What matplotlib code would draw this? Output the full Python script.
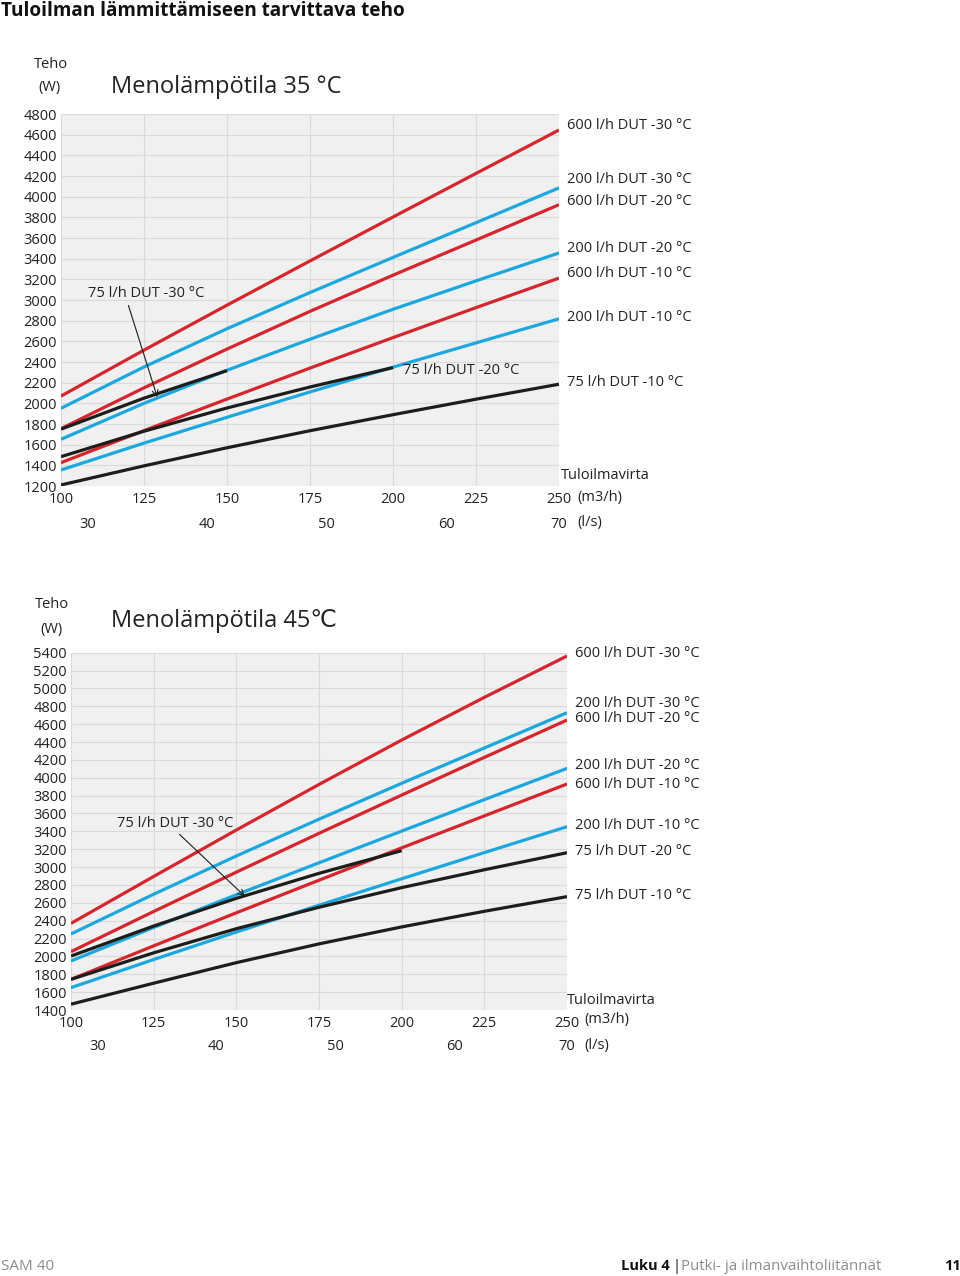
import numpy as np
import matplotlib.pyplot as plt

plt.rcParams['font.family'] = ['Open Sans', 'DejaVu Sans']

W, H = 960, 1276
RED = '#d5262d'
BLUE = '#1ca7df'
BLACK = '#1d1d1b'
GREY_BG = '#eff0ef'
GRID = '#d9dad9'

# air flow (m3/h) and the l/s scale shown under it
flow = [100, 125, 150, 175, 200, 225, 250]
ls_ticks = [30, 40, 50, 60, 70]

# Menolämpötila 35 °C  (W)
t35_600_m30 = [2070, 2515, 2950, 3378, 3803, 4225, 4645]
t35_200_m30 = [1952, 2352, 2722, 3072, 3412, 3748, 4085]
t35_600_m20 = [1755, 2150, 2525, 2890, 3240, 3580, 3922]
t35_200_m20 = [1652, 2000, 2320, 2620, 2910, 3185, 3455]
t35_600_m10 = [1426, 1736, 2041, 2341, 2636, 2926, 3212]
t35_200_m10 = [1355, 1615, 1865, 2110, 2350, 2585, 2818]
t35_75_m30 = [1750, 2050, 2317]                 # 100..150
t35_75_m20 = [1484, 1730, 1955, 2158, 2346]     # 100..200
t35_75_m10 = [1210, 1395, 1570, 1735, 1890, 2040, 2185]

# Menolämpötila 45 °C  (W)
t45_600_m30 = [2370, 2895, 3415, 3925, 4422, 4900, 5363]
t45_200_m30 = [2251, 2696, 3124, 3536, 3938, 4333, 4728]
t45_600_m20 = [2053, 2503, 2943, 3378, 3806, 4228, 4646]
t45_200_m20 = [1949, 2324, 2690, 3048, 3403, 3755, 4105]
t45_600_m10 = [1743, 2118, 2488, 2853, 3215, 3573, 3930]
t45_200_m10 = [1650, 1965, 2273, 2573, 2869, 3162, 3452]
t45_75_m30 = [2004, 2340, 2650, 2930, 3184]     # 100..200
t45_75_m20 = [1743, 2040, 2310, 2550, 2770, 2970, 3161]
t45_75_m10 = [1465, 1700, 1930, 2140, 2330, 2505, 2669]


def fx(x):
    return x / W


def fy(y):
    return 1 - y / H


def plot_chart(ax, curves, ymin, ymax, notes):
    """draw one Teho / Tuloilmavirta chart"""
    ax.set_facecolor(GREY_BG)
    for s in ax.spines.values():
        s.set_visible(False)

    # colored lines first, black ones on top
    for name, color, ys, dy in sorted(curves, key=lambda c: c[1] == BLACK):
        xs = flow[:len(ys)]
        ax.plot(xs, ys, color=color, linewidth=2.3, solid_capstyle='butt',
                solid_joinstyle='round', zorder=3)
        if dy is not None:
            ax.annotate(name, xy=(xs[-1], ys[-1]), xytext=(6, dy),
                        textcoords='offset points', va='center', ha='left',
                        fontsize=10.5, color='#222222', annotation_clip=False)

    ax.set_xlim(100, 250)
    ax.set_ylim(ymin, ymax)
    ax.set_xticks(flow)
    ax.set_yticks(np.arange(ymin, ymax + 1, 200))
    ax.grid(True, color=GRID, linewidth=0.8, zorder=0)
    ax.set_axisbelow(True)
    ax.tick_params(length=0, labelsize=10.5, colors='#222222', pad=3)
    ax.tick_params(axis='x', pad=4)

    # l/s row under the m3/h ticks
    trans = ax.get_xaxis_transform()
    for v in ls_ticks:
        ax.text(min(v * 3.6, 250), -0.103, str(v), transform=trans,
                ha='center', va='center', fontsize=10.5, color='#222222')

    for text, xy, xytext, rel in notes:
        if rel is None:
            ax.annotate(text, xy=xy, xytext=xytext, textcoords='offset points',
                        ha='left', va='center', fontsize=10.5, color='#222222')
        else:
            ax.annotate(text, xy=xy, xytext=xytext, ha='left', va='center',
                        fontsize=10.5, color='#222222',
                        arrowprops=dict(arrowstyle='->', color=BLACK, lw=0.8,
                                        relpos=(rel, 0.0), shrinkA=1, shrinkB=0))


fig = plt.figure(figsize=(9.6, 12.76), dpi=100)

# --- chart 1 ---
ax1 = fig.add_axes([fx(61), fy(486), fx(498), 372 / H])
curves35 = [
    ("600 l/h DUT -30 °C", RED, t35_600_m30, 3),
    ("200 l/h DUT -30 °C", BLUE, t35_200_m30, 6),
    ("600 l/h DUT -20 °C", RED, t35_600_m20, 2),
    ("200 l/h DUT -20 °C", BLUE, t35_200_m20, 3),
    ("600 l/h DUT -10 °C", RED, t35_600_m10, 3),
    ("200 l/h DUT -10 °C", BLUE, t35_200_m10, 1),
    ("75 l/h DUT -30 °C", BLACK, t35_75_m30, None),
    ("75 l/h DUT -20 °C", BLACK, t35_75_m20, None),
    ("75 l/h DUT -10 °C", BLACK, t35_75_m10, 1),
]
notes35 = [
    ("75 l/h DUT -30 °C", (129, 2060), (108, 3060), 0.34),
    ("75 l/h DUT -20 °C", (200, t35_75_m20[-1]), (7, -2), None),
]
plot_chart(ax1, curves35, 1200, 4800, notes35)

fig.text(fx(34), fy(64), "Teho", fontsize=10.5, va='center', color='#222222')
fig.text(fx(38), fy(88), "(W)", fontsize=10.5, va='center', color='#222222')
fig.text(fx(111), fy(87), "Menolämpötila 35 °C", fontsize=17, va='center', color='#222222')
fig.text(fx(561), fy(475), "Tuloilmavirta", fontsize=10.5, va='center', color='#222222')
fig.text(fx(577), fy(497), "(m3/h)", fontsize=10.5, va='center', color='#222222')
fig.text(fx(577), fy(522), "(l/s)", fontsize=10.5, va='center', color='#222222')

# --- chart 2 ---
ax2 = fig.add_axes([fx(71), fy(1010), fx(496), 357.3 / H])
curves45 = [
    ("600 l/h DUT -30 °C", RED, t45_600_m30, 2),
    ("200 l/h DUT -30 °C", BLUE, t45_200_m30, 7),
    ("600 l/h DUT -20 °C", RED, t45_600_m20, 1),
    ("200 l/h DUT -20 °C", BLUE, t45_200_m20, 2),
    ("600 l/h DUT -10 °C", RED, t45_600_m10, 0),
    ("200 l/h DUT -10 °C", BLUE, t45_200_m10, 1),
    ("75 l/h DUT -30 °C", BLACK, t45_75_m30, None),
    ("75 l/h DUT -20 °C", BLACK, t45_75_m20, 1),
    ("75 l/h DUT -10 °C", BLACK, t45_75_m10, 1),
]
notes45 = [
    ("75 l/h DUT -30 °C", (152.6, 2672), (114, 3493), 0.5),
]
plot_chart(ax2, curves45, 1400, 5400, notes45)

fig.text(fx(35), fy(605), "Teho", fontsize=10.5, va='center', color='#222222')
fig.text(fx(40), fy(629), "(W)", fontsize=10.5, va='center', color='#222222')
fig.text(fx(111), fy(621), "Menolämpötila 45℃", fontsize=17, va='center', color='#222222')
fig.text(fx(567), fy(1000), "Tuloilmavirta", fontsize=10.5, va='center', color='#222222')
fig.text(fx(584), fy(1020), "(m3/h)", fontsize=10.5, va='center', color='#222222')
fig.text(fx(584), fy(1046), "(l/s)", fontsize=10.5, va='center', color='#222222')

# page header / footer
fig.text(fx(1), fy(11), "Tuloilman lämmittämiseen tarvittava teho",
         fontsize=13.7, fontweight='bold', va='center', color='#111111')
fig.text(fx(1), fy(1266), "SAM 40", fontsize=11, va='center', color='#8c8c8c')
fig.text(fx(621), fy(1266), "Luku 4", fontsize=10.5, fontweight='bold', va='center', color='#111111')
fig.text(fx(673), fy(1266), "|", fontsize=10.5, va='center', color='#111111')
fig.text(fx(681), fy(1266), "Putki- ja ilmanvaihtoliitännät", fontsize=10.8, va='center', color='#8c8c8c')
fig.text(fx(944), fy(1266), "11", fontsize=10.5, fontweight='bold', va='center', color='#111111')

fig.savefig("out.png", dpi=100, facecolor='white')
